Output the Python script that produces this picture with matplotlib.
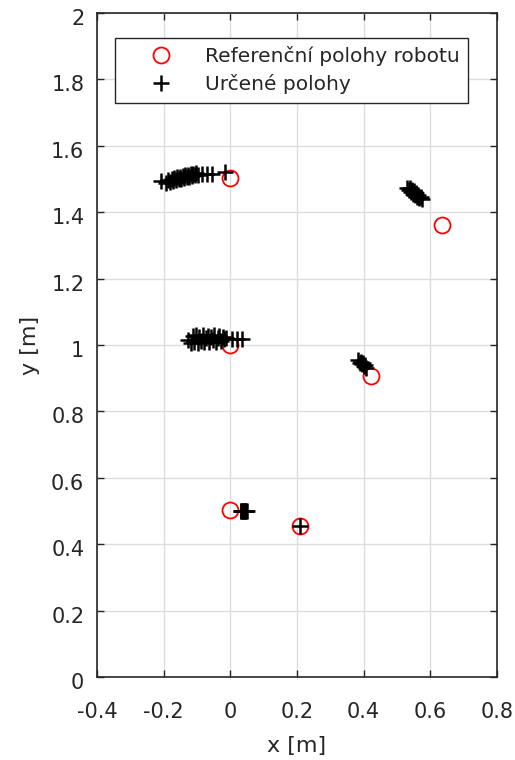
import numpy as np
import matplotlib.pyplot as plt
import matplotlib.transforms as mtransforms

plt.rcParams['font.family'] = ['DejaVu Sans']

# referencni polohy robotu [m]
ref_x = [0.0, 0.634, 0.0, 0.421, 0.0, 0.21]
ref_y = [1.503, 1.361, 1.0, 0.907, 0.502, 0.456]

# urcene polohy - shluk u (0, 1.5)
p1_x = [-0.208, -0.192, -0.186, -0.181, -0.176, -0.172, -0.168, -0.163, -0.159, -0.155,
        -0.151, -0.147, -0.143, -0.139, -0.135, -0.131, -0.127, -0.123, -0.119, -0.115,
        -0.111, -0.106, -0.102, -0.098, -0.085, -0.070, -0.055, -0.015]
p1_y = [1.493, 1.488, 1.497, 1.491, 1.499, 1.494, 1.502, 1.496, 1.505, 1.499,
        1.507, 1.501, 1.509, 1.503, 1.511, 1.505, 1.513, 1.507, 1.515, 1.509,
        1.516, 1.511, 1.518, 1.513, 1.516, 1.515, 1.516, 1.522]

# shluk u (0, 1)
p2_x = [-0.128, -0.118, -0.113, -0.108, -0.103, -0.098, -0.093, -0.088, -0.083, -0.078,
        -0.073, -0.068, -0.063, -0.058, -0.053, -0.048, -0.043, -0.038, -0.033, -0.028,
        -0.023, -0.018, -0.013, 0.005, 0.020, 0.035]
p2_y = [1.016, 1.006, 1.026, 1.010, 1.029, 1.007, 1.024, 1.013, 1.030, 1.008,
        1.020, 1.028, 1.009, 1.025, 1.014, 1.029, 1.010, 1.022, 1.027, 1.012,
        1.025, 1.017, 1.022, 1.019, 1.019, 1.018]

# shluk u (0.55, 1.45)
p3_x = [0.530, 0.536, 0.540, 0.543, 0.546, 0.549, 0.552, 0.555, 0.558, 0.561,
        0.564, 0.567, 0.571, 0.576]
p3_y = [1.472, 1.466, 1.474, 1.462, 1.468, 1.456, 1.463, 1.452, 1.458, 1.447,
        1.452, 1.443, 1.447, 1.440]

# shluk u (0.39, 0.94)
p4_x = [0.384, 0.388, 0.391, 0.394, 0.397, 0.400, 0.403, 0.406]
p4_y = [0.954, 0.947, 0.950, 0.942, 0.945, 0.937, 0.940, 0.932]

# shluk u (0.04, 0.5)
p5_x = [0.031, 0.033, 0.035, 0.037, 0.039, 0.041, 0.043, 0.045, 0.047, 0.049]
p5_y = [0.500, 0.501, 0.499, 0.500, 0.501, 0.499, 0.500, 0.501, 0.500, 0.499]

# bod u (0.21, 0.455)
p6_x = [0.21]
p6_y = [0.455]

urc_x = p1_x + p2_x + p3_x + p4_x + p5_x + p6_x
urc_y = p1_y + p2_y + p3_y + p4_y + p5_y + p6_y

xtick_labels = ['-0.4', '-0.2', '0', '0.2', '0.4', '0.6', '0.8']
ytick_labels = ['0', '0.2', '0.4', '0.6', '0.8', '1', '1.2', '1.4', '1.6', '1.8', '2']

text_col = '#262626'

fig = plt.figure(figsize=(5.15, 7.6), dpi=100)
ax = fig.add_axes([0.188, 0.109, 0.777, 0.874])

ax.plot(ref_x, ref_y, 'o', color='#ff0000', mfc='none', ms=11.5, mew=1.3,
        label='Referenční polohy robotu', zorder=3)
ax.plot(urc_x, urc_y, '+', color='black', ms=12, mew=1.8,
        label='Určené polohy', zorder=4)

ax.set_xlim(-0.4, 0.8)
ax.set_ylim(0, 2)
ax.set_xticks(np.linspace(-0.4, 0.8, 7))
ax.set_xticklabels(xtick_labels)
ax.set_yticks(np.linspace(0, 2, 11))
ax.set_yticklabels(ytick_labels)
ax.grid(True, color='#dcdcdc', linewidth=1.0)
ax.set_axisbelow(True)
ax.tick_params(direction='in', top=True, right=True, length=5, width=1,
               labelsize=15, colors=text_col)
ax.tick_params(axis='x', pad=18)
ax.tick_params(axis='y', pad=9)

# popisky osy y jsou v predloze mirne posunute dolu
posun = mtransforms.ScaledTranslation(0, -4 / 100, fig.dpi_scale_trans)
for lab in ax.get_yticklabels():
    lab.set_transform(lab.get_transform() + posun)

for s in ax.spines.values():
    s.set_linewidth(1.2)
    s.set_color(text_col)

ax.set_xlabel('x [m]', fontsize=16, color=text_col)
ax.set_ylabel('y [m]', fontsize=16, color=text_col)
ax.xaxis.set_label_coords(0.5, -0.088)
ax.yaxis.set_label_coords(-0.1425, 0.5)

leg = ax.legend(loc='upper left', bbox_to_anchor=(0.045, 0.9625), fontsize=14.5,
                frameon=True, fancybox=False, numpoints=1, handlelength=3.7,
                handletextpad=0.36, borderpad=0.42, labelspacing=0.4,
                borderaxespad=0)
leg.get_frame().set_edgecolor(text_col)
leg.get_frame().set_linewidth(1.0)
leg.get_frame().set_alpha(1)
for t in leg.get_texts():
    t.set_color(text_col)

fig.savefig('out.png', dpi=100)
